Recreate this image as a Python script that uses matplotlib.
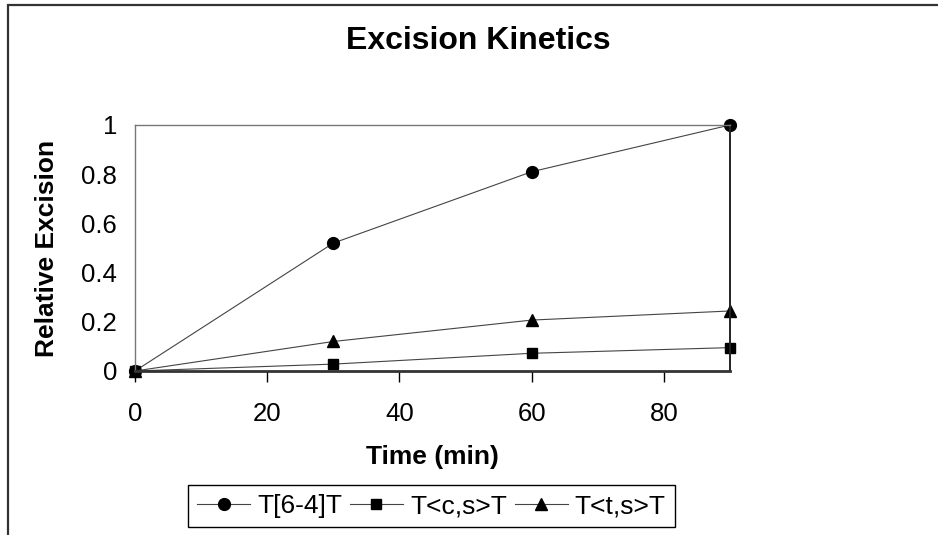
import matplotlib
matplotlib.use('Agg')
from matplotlib import pyplot as plt
from matplotlib.patches import Rectangle

plt.rcParams['font.family'] = ['Liberation Sans', 'DejaVu Sans']

time_min = [0, 30, 60, 90]
t64t = [0.0, 0.52, 0.81, 1.0]
tcst = [0.0, 0.028, 0.072, 0.095]
ttst = [0.0, 0.12, 0.207, 0.244]
series_names = ['T[6-4]T', 'T<c,s>T', 'T<t,s>T']
x_ticks = [0, 20, 40, 60, 80]
y_ticks = [0, 0.2, 0.4, 0.6, 0.8, 1.0]
y_tick_labels = ['0', '0.2', '0.4', '0.6', '0.8', '1']

W, H = 938, 535
fig = plt.figure(figsize=(W / 100, H / 100), dpi=100)

# outer chart border (cut off on the right and bottom)
fig.patches.append(Rectangle((8 / W, -20 / H), 1.0, (H - 5 + 20) / H,
                             transform=fig.transFigure, fill=False,
                             edgecolor='#333333', linewidth=1.6))

ax = fig.add_axes([135 / W, (H - 371) / H, 595 / W, 246 / H])
line_kw = dict(color='#444444', linewidth=0.8, markerfacecolor='black',
               markeredgecolor='black', clip_on=False)
ax.plot(time_min, t64t, marker='o', markersize=8.5, label=series_names[0], **line_kw)
ax.plot(time_min, tcst, marker='s', markersize=7.5, label=series_names[1], **line_kw)
ax.plot(time_min, ttst, marker='^', markersize=9, label=series_names[2], **line_kw)

ax.set_xlim(0, 90)
ax.set_ylim(0, 1)
ax.set_xticks(x_ticks)
ax.set_yticks(y_ticks)
ax.set_yticklabels(y_tick_labels)
ax.tick_params(axis='x', length=8, width=1, color='black', direction='out',
               labelsize=18.5, pad=14)
ax.tick_params(axis='y', length=0, labelsize=18.5, pad=13)

ax.spines['left'].set_color('#777777')
ax.spines['left'].set_linewidth(1)
ax.spines['top'].set_color('#777777')
ax.spines['top'].set_linewidth(1)
ax.spines['right'].set_color('#222222')
ax.spines['right'].set_linewidth(1.4)
ax.spines['bottom'].set_color('#333333')
ax.spines['bottom'].set_linewidth(2)

ax.set_xlabel('Time (min)', fontsize=19, fontweight='bold', labelpad=14)
ax.set_ylabel('Relative Excision', fontsize=19, fontweight='bold', labelpad=16)

fig.text(478 / W, 1 - 41 / H, 'Excision Kinetics', fontsize=23,
         fontweight='bold', ha='center', va='center')

leg = fig.legend(loc='upper left', bbox_to_anchor=(188 / W, 1 - 485 / H),
                 ncol=3, fontsize=19, frameon=True, fancybox=False,
                 edgecolor='black', framealpha=1, handlelength=2.0,
                 handletextpad=0.27, columnspacing=0.3, borderpad=0.35,
                 borderaxespad=0)
leg.get_frame().set_linewidth(1)

fig.savefig('out.png', dpi=100)
